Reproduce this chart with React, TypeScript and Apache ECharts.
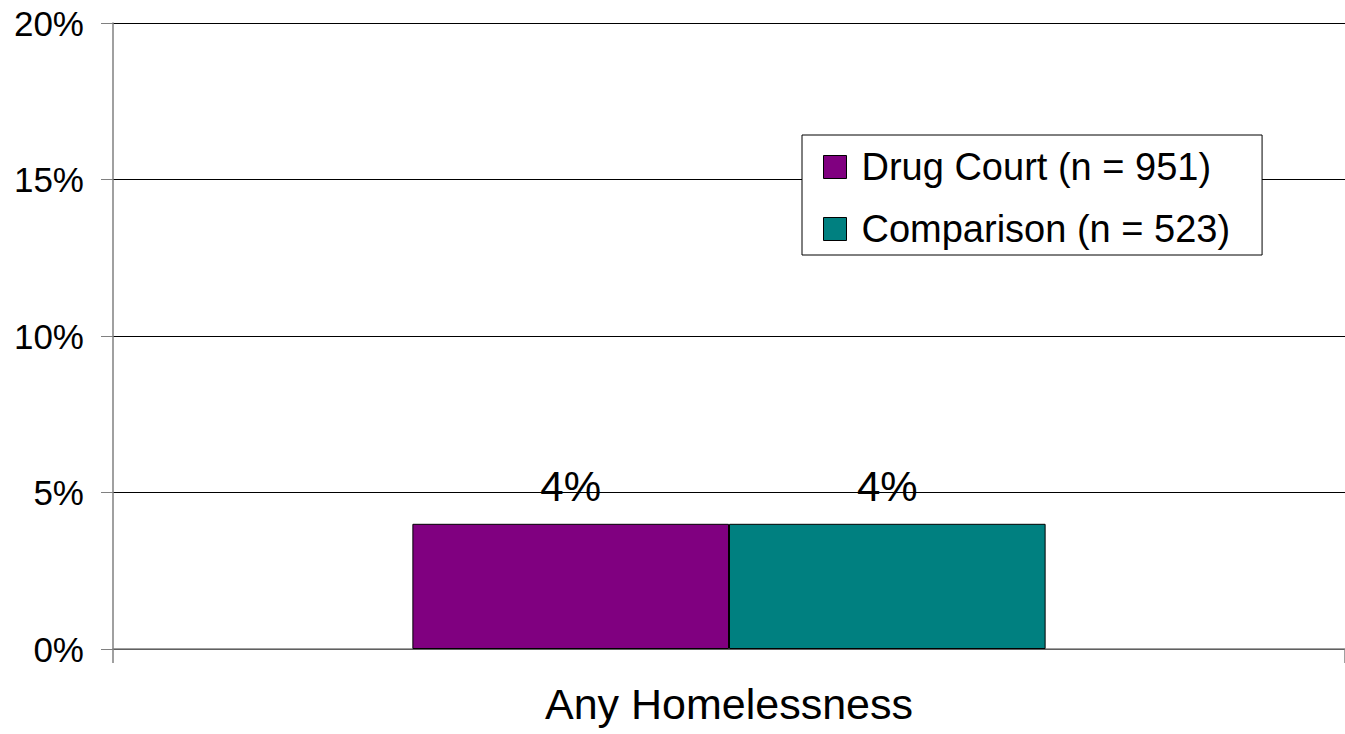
import React, { useEffect, useRef } from "react";
import * as echarts from "echarts";

const categories = ["Any Homelessness"];
const drugCourt = [4];
const comparison = [4];
const seriesNames = ["Drug Court (n = 951)", "Comparison (n = 523)"];
const yTicks = { min: 0, max: 20, interval: 5 };

const FONT = "'Liberation Sans', Arial, sans-serif";

export default function App() {
  const ref = useRef<HTMLDivElement>(null);
  useEffect(() => {
    if (!ref.current) return;
    const chart = echarts.init(ref.current, undefined, { renderer: "svg" });
    const labelCfg = {
      show: true,
      position: "top",
      distance: 16,
      formatter: "{c}%",
      fontSize: 42,
      color: "#000",
      fontFamily: FONT,
    };
    chart.setOption({
      animation: false,
      backgroundColor: "#fff",
      textStyle: { fontFamily: FONT },
      grid: { left: 113, right: -4, top: 23, bottom: 85, containLabel: false },
      legend: {
        orient: "vertical",
        left: 802,
        top: 135,
        padding: [12, 32, 6, 21],
        itemGap: 22,
        itemWidth: 23,
        itemHeight: 23,
        icon: "rect",
        backgroundColor: "#fff",
        borderColor: "#000",
        borderWidth: 1,
        textStyle: {
          fontSize: 38,
          lineHeight: 40,
          color: "#000",
          fontFamily: FONT,
          padding: [0, 0, 0, 10],
        },
        itemStyle: { borderColor: "#000", borderWidth: 1 },
        data: seriesNames,
      },
      xAxis: {
        type: "category",
        data: categories,
        axisLine: { show: true, lineStyle: { color: "#808080", width: 1.5 } },
        axisTick: { show: true, length: 14, lineStyle: { color: "#808080", width: 1.5 } },
        axisLabel: { fontSize: 43, color: "#000", margin: 33, fontFamily: FONT },
      },
      yAxis: {
        type: "value",
        min: yTicks.min,
        max: yTicks.max,
        interval: yTicks.interval,
        axisLine: { show: true, lineStyle: { color: "#808080", width: 1.5 } },
        axisTick: { show: true, length: 12, lineStyle: { color: "#808080", width: 1 } },
        axisLabel: { formatter: "{value}%", fontSize: 35, color: "#000", margin: 29, fontFamily: FONT },
        splitLine: { show: true, lineStyle: { color: "#000", width: 1 } },
      },
      series: [
        {
          name: seriesNames[0],
          type: "bar",
          data: drugCourt,
          barGap: "0%",
          barCategoryGap: "48.6%",
          itemStyle: { color: "#800080", borderColor: "#000", borderWidth: 1 },
          label: labelCfg,
        },
        {
          name: seriesNames[1],
          type: "bar",
          data: comparison,
          barGap: "0%",
          barCategoryGap: "48.6%",
          itemStyle: { color: "#008080", borderColor: "#000", borderWidth: 1 },
          label: labelCfg,
        },
      ],
    });
    return () => chart.dispose();
  }, []);
  return (
    <div
      ref={ref}
      style={{ position: "absolute", left: 0, top: 0, width: 1345, height: 734 }}
    />
  );
}
